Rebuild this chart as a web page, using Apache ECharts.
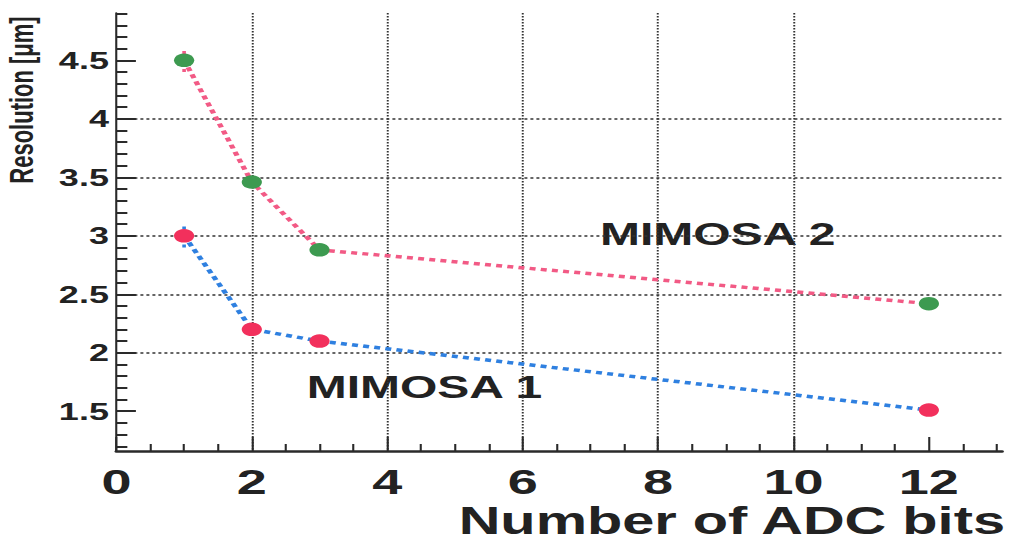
<!DOCTYPE html>
<html><head><meta charset="utf-8">
<script src="https://cdn.jsdelivr.net/npm/echarts@6/dist/echarts.min.js"></script>
<style>
html,body{margin:0;padding:0;background:#fff;overflow:hidden;width:1010px;height:545px}
#chart{width:674px;height:545px;transform:scaleX(1.5);transform-origin:0 0;}
</style></head><body><div id="chart"></div>
<script>
const bits = [1, 2, 3, 12];
const mimosa2 = [4.50, 3.46, 2.88, 2.42];
const mimosa2Err = [0.10, 0.03, 0.04, 0.02];
const mimosa1 = [3.00, 2.20, 2.10, 1.51];
const mimosa1Err = [0.10, 0.04, 0.05, 0.02];
const xTickValues = [0, 2, 4, 6, 8, 10, 12];
const yTickValues = [1.5, 2, 2.5, 3, 3.5, 4, 4.5];
const xTitle = 'Number of ADC bits';
const yTitle = 'Resolution [\u03bcm]';
const label1 = 'MIMOSA 1';
const label2 = 'MIMOSA 2';

const FONT = '"Liberation Sans", Arial, Helvetica, sans-serif';
const AX = '#2a2a2a';

function errSeries(vals, errs, color) {
  return {
    type: 'custom', z: 2, silent: true, animation: false,
    data: bits.map((b, i) => [b, vals[i] - errs[i], vals[i] + errs[i]]),
    encode: { x: 0, y: [1, 2] },
    renderItem: (params, api) => {
      const lo = api.coord([api.value(0), api.value(1)]);
      const hi = api.coord([api.value(0), api.value(2)]);
      return { type: 'line', shape: { x1: lo[0], y1: lo[1], x2: hi[0], y2: hi[1] },
        style: { stroke: color, lineWidth: 2.4, lineDash: [3, 3] } };
    }
  };
}

const chart = echarts.init(document.getElementById('chart'), null, { renderer: 'svg' });
chart.setOption({
  backgroundColor: '#ffffff',
  animation: false,
  grid: { left: 77.6, right: 6, top: 13, bottom: 94, containLabel: false },
  xAxis: {
    type: 'value', min: 0, max: 13.08, minInterval: 2, maxInterval: 2,
    axisLine: { show: true, onZero: false, lineStyle: { color: AX, width: 2.5 } },
    axisTick: { show: true, inside: true, length: 14, customValues: xTickValues, lineStyle: { color: AX, width: 1.4 } },
    minorTick: { show: true, splitNumber: 4, length: 7, lineStyle: { color: AX, width: 1.4 } },
    axisLabel: { customValues: xTickValues, margin: 12, fontFamily: FONT, fontWeight: 'bold', fontSize: 36, color: '#222' },
    splitLine: { show: true, showMinLine: false, showMaxLine: false, lineStyle: { color: '#333', width: 1.3, type: [1.5, 1.5] } }
  },
  yAxis: {
    type: 'value', min: 1.16, max: 4.905, minInterval: 0.5, maxInterval: 0.5,
    axisLine: { show: true, onZero: false, lineStyle: { color: AX, width: 1.4 } },
    axisTick: { show: true, inside: true, length: 13, customValues: yTickValues, lineStyle: { color: AX, width: 2 } },
    minorTick: { show: true, splitNumber: 5, length: 7.3, lineStyle: { color: AX, width: 2 } },
    axisLabel: { customValues: yTickValues, margin: 5, fontFamily: FONT, fontWeight: 'bold', fontSize: 24, color: '#222' },
    splitLine: { show: true, showMinLine: false, showMaxLine: false, lineStyle: { color: '#333', width: 1.5, type: [2, 2] } }
  },
  series: [
    errSeries(mimosa2, mimosa2Err, '#f25a85'),
    errSeries(mimosa1, mimosa1Err, '#2f80e0'),
    { type: 'line', name: label2, z: 3, data: bits.map((b, i) => [b, mimosa2[i]]),
      symbol: 'circle', symbolSize: 13.5, itemStyle: { color: '#3d9a50' },
      lineStyle: { color: '#f25a85', width: 3.5, type: [4, 3.5] } },
    { type: 'line', name: label1, z: 3, data: bits.map((b, i) => [b, mimosa1[i]]),
      symbol: 'circle', symbolSize: 13.5, itemStyle: { color: '#f2305c' },
      lineStyle: { color: '#2f80e0', width: 3.5, type: [4, 3.5] } }
  ],
  graphic: [
    { type: 'text', x: 400, y: 234, style: { text: label2, font: 'bold 32px ' + FONT, fill: '#222', align: 'left', verticalAlign: 'middle' } },
    { type: 'text', x: 204.5, y: 387.5, style: { text: label1, font: 'bold 32px ' + FONT, fill: '#222', align: 'left', verticalAlign: 'middle' } },
    { type: 'text', x: 670, y: 521, style: { text: xTitle, font: 'bold 38.5px ' + FONT, fill: '#222', align: 'right', verticalAlign: 'middle' } },
    { type: 'text', x: 14.5, y: 100, rotation: Math.PI / 2, style: { text: yTitle, font: 'bold 22px ' + FONT, fill: '#222', align: 'center', verticalAlign: 'middle' } }
  ]
});
</script></body></html>
